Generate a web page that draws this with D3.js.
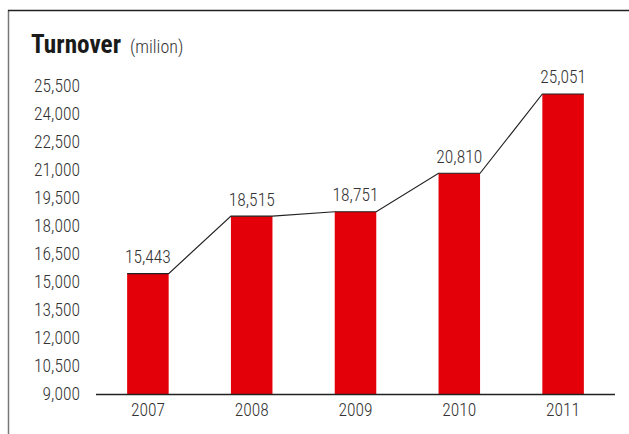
<!DOCTYPE html>
<html>
<head>
<meta charset="utf-8">
<script src="https://cdn.jsdelivr.net/npm/d3@7"></script>
<style>
  html, body { margin: 0; padding: 0; background: #fff; }
  svg { display: block; }
  text { font-family: "Liberation Sans Narrow", "Roboto Condensed", "Arial Narrow", "Liberation Sans", sans-serif; }
</style>
</head>
<body>
<svg id="chart" width="629" height="434"></svg>
<script>
const years = ["2007", "2008", "2009", "2010", "2011"];
const turnover = [15443, 18515, 18751, 20810, 25051];
const yTicks = [9000, 10500, 12000, 13500, 15000, 16500, 18000, 19500, 21000, 22500, 24000, 25500];

const FONT = "'Liberation Sans Narrow', 'Roboto Condensed', 'Arial Narrow', 'Liberation Sans', sans-serif";
const svg = d3.select("#chart");
const W = 629, H = 434;

// frame
svg.append("line").attr("x1", 8.5).attr("x2", 8.5).attr("y1", 10).attr("y2", H)
  .attr("stroke", "#777").attr("stroke-width", 1.5);
svg.append("line").attr("x1", 8).attr("x2", W).attr("y1", 10.5).attr("y2", 10.5)
  .attr("stroke", "#222").attr("stroke-width", 1.5);

// title
const title = svg.append("text").attr("x", 31).attr("y", 53).attr("fill", "#1a1a1a");
title.append("tspan").attr("font-weight", "bold").attr("font-size", 26)
  .attr("textLength", 90).attr("lengthAdjust", "spacingAndGlyphs").text("Turnover");
title.append("tspan").attr("font-size", 18).attr("font-weight", 300).attr("fill", "#333").attr("dx", 9).text("(milion)");

const x = d3.scaleBand().domain(years).range([96, 615]).paddingInner(0.6).paddingOuter(0.3);
const y = d3.scaleLinear().domain([9000, 25500]).range([394, 85.6]);

// y axis labels
const yAxis = d3.axisLeft(y).tickValues(yTicks).tickSize(0).tickPadding(0)
  .tickFormat(d3.format(","));
const gy = svg.append("g").attr("transform", "translate(80,0)").call(yAxis);
gy.select(".domain").remove();
gy.selectAll("text").attr("font-size", 17.5).attr("fill", "#333").attr("font-weight", 300)
  .style("font-family", FONT);

// bars
svg.append("g").selectAll("rect").data(turnover).join("rect")
  .attr("x", (d, i) => x(years[i]))
  .attr("width", x.bandwidth())
  .attr("y", d => y(d))
  .attr("height", d => y(9000) - y(d))
  .attr("fill", "#e30008");

// connector line: right-top of bar i to left-top of bar i+1
const pts = [];
turnover.forEach((d, i) => {
  pts.push([x(years[i]), y(d)]);
  pts.push([x(years[i]) + x.bandwidth(), y(d)]);
});
svg.append("path").attr("d", d3.line()(pts))
  .attr("fill", "none").attr("stroke", "#222").attr("stroke-width", 1.2);

// x axis
const xAxis = d3.axisBottom(x).tickSize(0).tickPadding(10);
const gx = svg.append("g").attr("transform", "translate(0,394)").call(xAxis);
gx.select(".domain").attr("d", "M96,0.5H615").attr("stroke", "#222").attr("stroke-width", 1.5);
gx.selectAll("text").attr("font-size", 17.5).attr("fill", "#333").attr("font-weight", 300)
  .style("font-family", FONT);

// value labels
svg.append("g").selectAll("text").data(turnover).join("text")
  .attr("x", (d, i) => x(years[i]) + x.bandwidth() / 2)
  .attr("y", d => y(d) - 10.5)
  .attr("text-anchor", "middle")
  .attr("font-size", 17.5).attr("fill", "#333").attr("font-weight", 300)
  .text(d => d3.format(",")(d));
</script>
</body>
</html>
